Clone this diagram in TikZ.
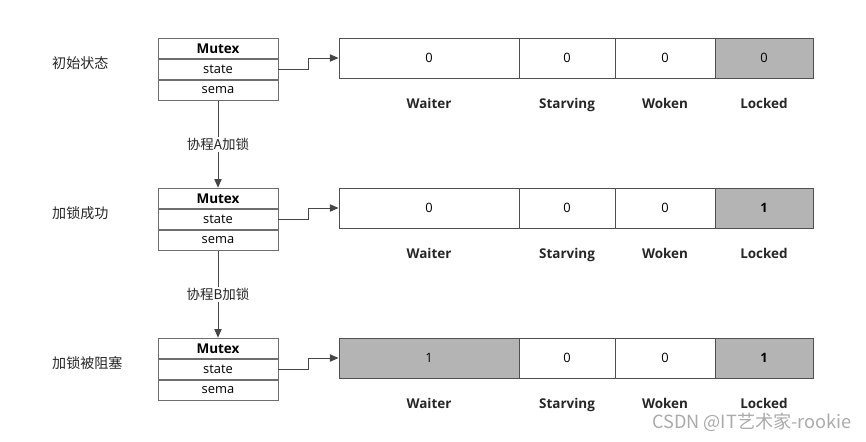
\documentclass[tikz,border=0pt]{standalone}
\usepackage{fontspec}
\setmainfont{Open Sans}
\newfontfamily\cjk{Noto Sans CJK SC}
\usepackage{tikz}
\usetikzlibrary{positioning,arrows.meta,calc}
\definecolor{boxrule}{RGB}{110,110,110}
\definecolor{cellrule}{RGB}{80,80,80}
\definecolor{lockgray}{RGB}{180,180,180}
\definecolor{linkgray}{RGB}{70,70,70}
\definecolor{markgray}{RGB}{170,170,170}
\tikzset{
  field/.style={rectangle,draw=boxrule,thick,fill=white,minimum width=3.6cm,minimum height=0.62cm,inner sep=0pt,font=\fontsize{11}{13}\selectfont},
  cell/.style={rectangle,draw=cellrule,thick,fill=white,minimum height=1.2cm,inner sep=0pt,font=\fontsize{11}{13}\selectfont},
  setcell/.style={cell,fill=lockgray},
  flagname/.style={anchor=base,font=\bfseries\fontsize{11.5}{13}\selectfont,text=black!85},
  rowname/.style={anchor=west,inner sep=0pt,font=\cjk\fontsize{12}{14}\selectfont,text=black!85},
  steplabel/.style={fill=white,inner sep=1pt,font=\cjk\fontsize{11.5}{13}\selectfont,text=black!85},
  link/.style={-{Triangle[length=2.6mm,width=2.2mm]},thick,draw=linkgray}
}
\begin{document}
\begin{tikzpicture}[x=0.03cm,y=-0.03cm]
  \useasboundingbox (0,0) rectangle (866,441);
  % three snapshots of the mutex
  \foreach \r/\top/\caption/\wv/\ws/\lv/\ls in {1/38/初始状态/0/cell/0/setcell,2/188/加锁成功/0/cell/\textbf{1}/setcell,3/338/加锁被阻塞/1/setcell/\textbf{1}/setcell}{
    \node[rowname] (row\r) at (52,\top+25) {\caption};
    \node[field,font=\bfseries\fontsize{11.5}{13}\selectfont] (title\r) at (218,\top+10.5) {Mutex};
    \node[field] (state\r) at (218,\top+31.5) {state};
    \node[field] (sema\r) at (218,\top+52.5) {sema};
    \node[\ws,minimum width=5.4cm] (waiter\r) at (429,\top+20) {\wv};
    \node[cell,minimum width=2.88cm] (starving\r) at (567,\top+20) {0};
    \node[cell,minimum width=3cm] (woken\r) at (665,\top+20) {0};
    \node[\ls,minimum width=2.94cm] (locked\r) at (764,\top+20) {\lv};
    \node[flagname] (wname\r) at (429,\top+70) {Waiter};
    \node[flagname] (sname\r) at (567,\top+70) {Starving};
    \node[flagname] (oname\r) at (665,\top+70) {Woken};
    \node[flagname] (lname\r) at (764,\top+70) {Locked};
    \draw[link] (state\r.east) -- ++(30,0) |- (waiter\r.west);
  }
  \draw[link] (sema1.south) -- node[steplabel] (stepa) {协程A加锁} (title2.north);
  \draw[link] (sema2.south) -- node[steplabel] (stepb) {协程B加锁} (title3.north);
  \node[anchor=east,inner sep=0pt,text=markgray,font=\cjk\fontsize{15.5}{17}\selectfont] (mark) at (852,422) {CSDN @IT艺术家-rookie};
\end{tikzpicture}
\end{document}
